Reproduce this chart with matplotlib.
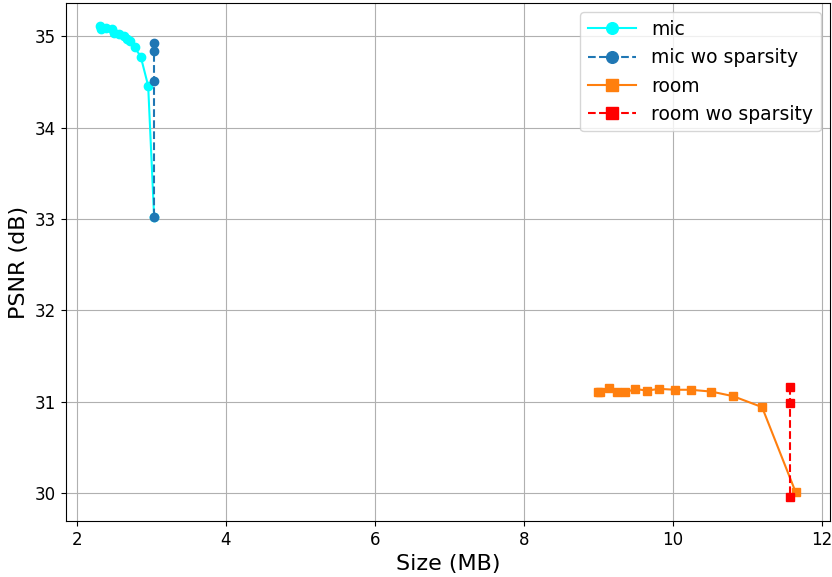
import matplotlib
matplotlib.use("Agg")
import matplotlib.pyplot as plt

# size (MB) vs PSNR (dB) for each model
mic_size = [2.32, 2.33, 2.40, 2.48, 2.50, 2.57, 2.63, 2.68, 2.71, 2.78, 2.86, 2.96, 3.04]
mic_psnr = [35.11, 35.08, 35.09, 35.08, 35.04, 35.03, 35.00, 34.97, 34.95, 34.88, 34.78, 34.46, 33.02]

mic_wo_size = [3.04, 3.04, 3.04, 3.04]
mic_wo_psnr = [34.93, 34.84, 34.51, 33.02]

room_size = [9.00, 9.02, 9.14, 9.25, 9.36, 9.50, 9.65, 9.82, 10.03, 10.24, 10.52, 10.81, 11.20, 11.65]
room_psnr = [31.11, 31.11, 31.15, 31.11, 31.10, 31.14, 31.12, 31.14, 31.13, 31.13, 31.11, 31.06, 30.94, 30.01]

room_wo_size = [11.57, 11.57, 11.57]
room_wo_psnr = [31.16, 30.98, 29.95]

fig, ax = plt.subplots(figsize=(8.32, 5.77), dpi=100)
fig.subplots_adjust(left=0.079, right=0.998, top=0.995, bottom=0.097)

ax.plot(mic_size, mic_psnr, "-o", color="cyan", label="mic")
ax.plot(mic_wo_size, mic_wo_psnr, "--o", color="tab:blue", label="mic wo sparsity")
ax.plot(room_size, room_psnr, "-s", color="tab:orange", label="room")
ax.plot(room_wo_size, room_wo_psnr, "--s", color="red", label="room wo sparsity")

ax.set_xlabel("Size (MB)", fontsize=16)
ax.set_ylabel("PSNR (dB)", fontsize=16)
ax.tick_params(labelsize=12)
ax.grid(True)
ax.legend(fontsize=13.5, markerscale=1.4, handlelength=2.6)

fig.savefig("out.png")
